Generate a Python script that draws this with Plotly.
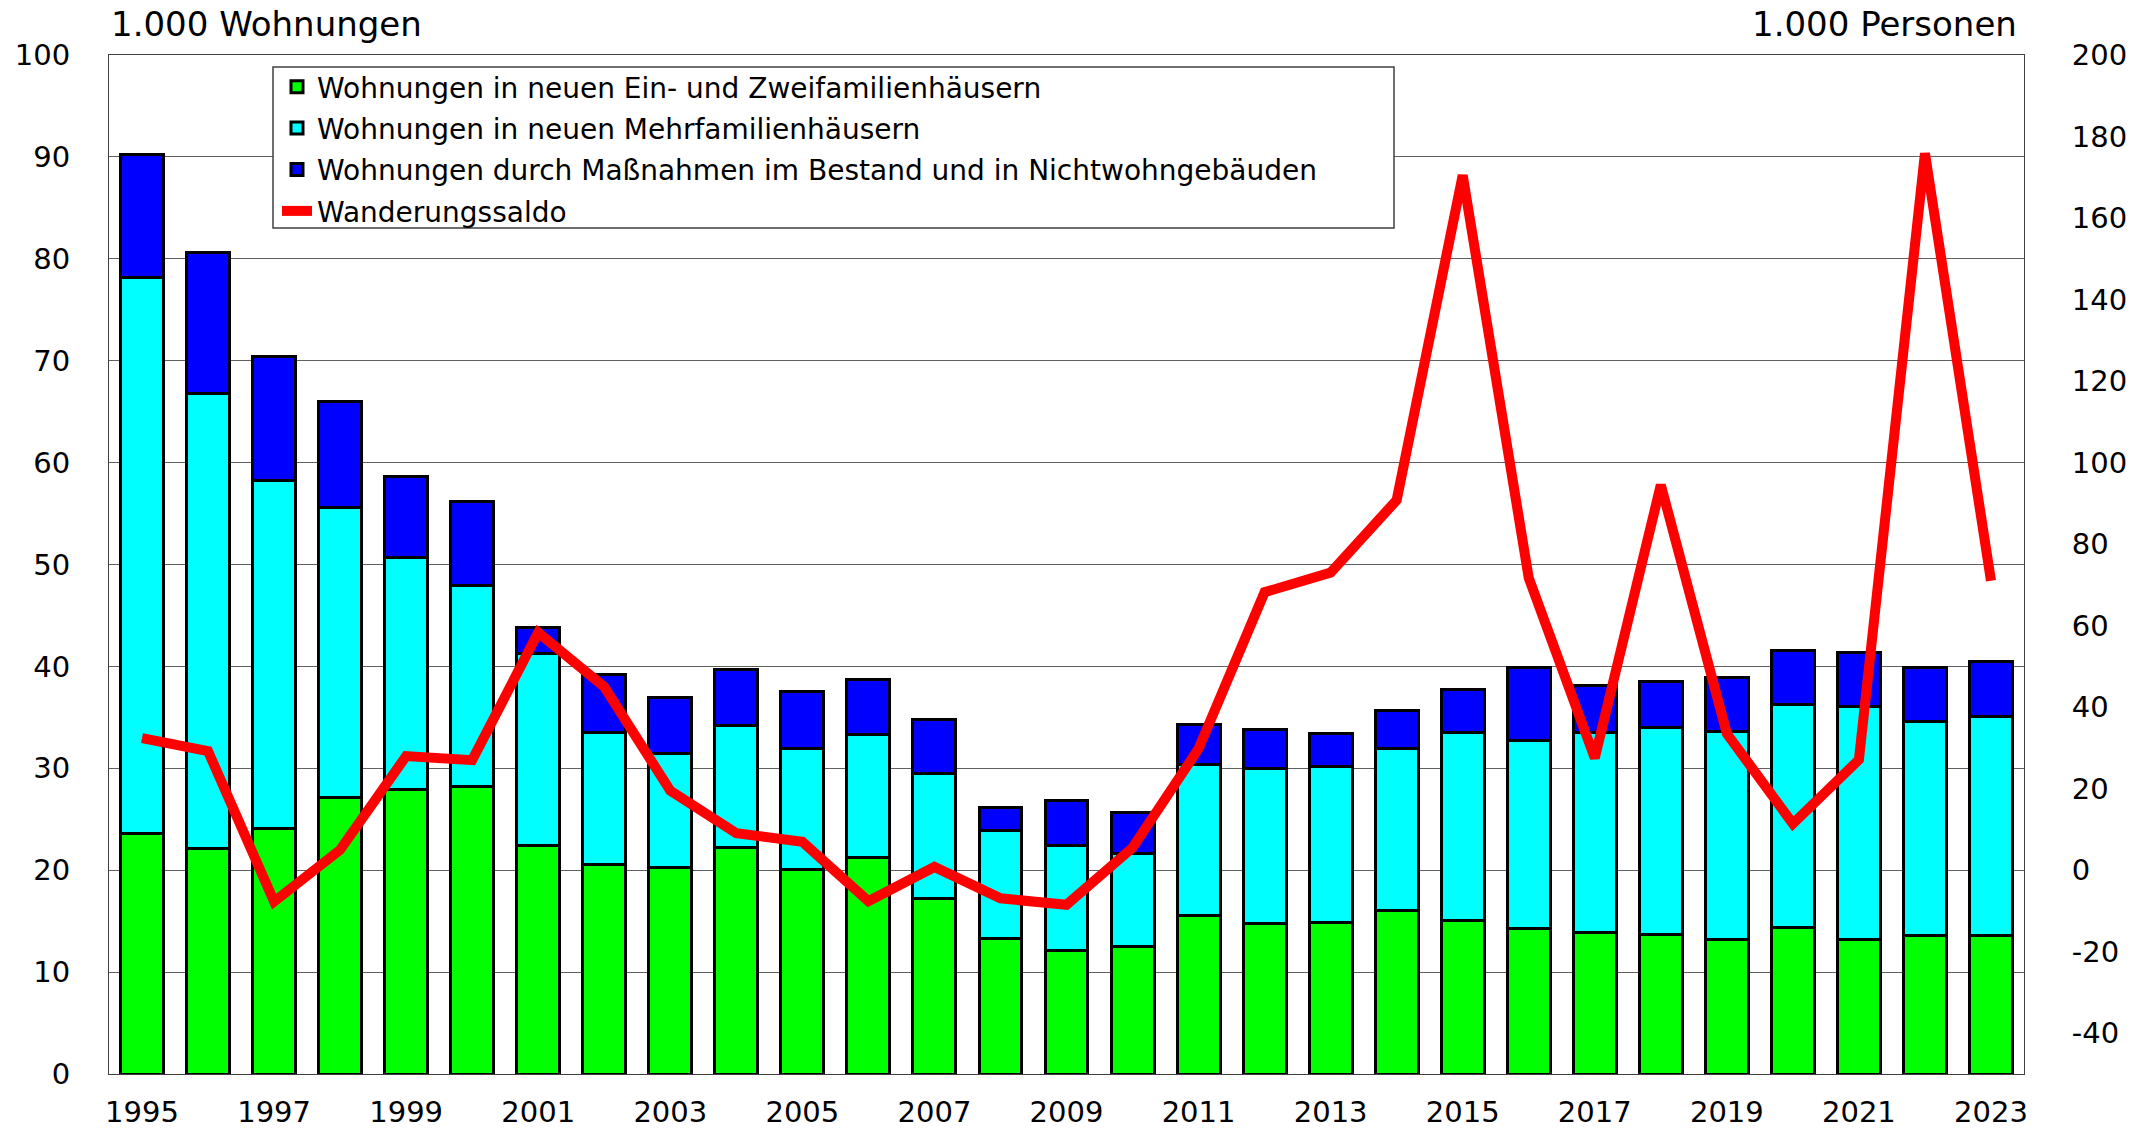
import plotly.graph_objects as go

years = list(range(1995, 2024))

# 1.000 Wohnungen – segments of the stacked bars
ein_zwei = [23.6, 22.1, 24.1, 27.1, 27.9, 28.2, 22.4, 20.6, 20.3, 22.2,
            20.1, 21.2, 17.2, 13.3, 12.1, 12.5, 15.6, 14.8, 14.9, 16.0,
            15.1, 14.3, 13.9, 13.7, 13.2, 14.4, 13.2, 13.6, 13.6]
mehrfam = [54.6, 44.7, 34.1, 28.5, 22.8, 19.7, 18.9, 12.9, 11.2, 12.0,
           11.8, 12.1, 12.3, 10.6, 10.3, 9.1, 14.8, 15.2, 15.3, 15.9,
           18.4, 18.4, 19.6, 20.3, 20.4, 21.9, 22.9, 21.0, 21.5]
bestand = [12.0, 13.8, 12.2, 10.4, 7.9, 8.3, 2.5, 5.7, 5.4, 5.5,
           5.6, 5.4, 5.3, 2.3, 4.4, 4.1, 3.9, 3.8, 3.2, 3.8,
           4.2, 7.2, 4.6, 4.5, 5.3, 5.3, 5.3, 5.3, 5.4]
# 1.000 Personen
wanderung = [32.4, 29.2, -7.7, 5.0, 28.0, 27.0, 58.3, 45.0, 19.5, 9.1,
             7.0, -7.6, 0.8, -6.9, -8.5, 5.5, 29.8, 68.2, 73.0, 90.8,
             170.5, 71.7, 27.5, 94.5, 33.5, 11.4, 27.1, 175.9, 71.0]

names = ["Wohnungen in neuen Ein- und Zweifamilienhäusern",
         "Wohnungen in neuen Mehrfamilienhäusern",
         "Wohnungen durch Maßnahmen im Bestand und in Nichtwohngebäuden",
         "Wanderungssaldo"]

x_ticks = list(range(1995, 2024, 2))
left_ticks = list(range(0, 101, 10))
right_ticks = list(range(-40, 201, 20))
right_ticktext = [str(v) for v in right_ticks]

FONT = "DejaVu Sans"
TICK = 29

# plot area in page pixels (body margin removed by post_script)
W, H = 2143, 1130
PL, PR, PT, PB = 109, 2024, 55, 1074
PW, PH = PR - PL, PB - PT

fig = go.Figure()
for vals, col, nm, grp in [(ein_zwei, "#00FF00", names[0], "g1"),
                           (mehrfam, "#00FFFF", names[1], "g2"),
                           (bestand, "#0000FF", names[2], "g3")]:
    fig.add_trace(go.Bar(x=years, y=vals, name=nm, legendgroup=grp,
                         marker=dict(color=col, line=dict(color="black", width=3))))

fig.add_trace(go.Scatter(x=years, y=wanderung, name=names[3], legendgroup="g4",
                         mode="lines", yaxis="y2",
                         line=dict(color="#FF0000", width=10)))

fig.update_layout(
    width=W, height=H,
    margin=dict(l=PL, r=W - PR, t=PT, b=H - PB, autoexpand=False),
    paper_bgcolor="white", plot_bgcolor="white",
    barmode="stack", bargap=0.35,
    font=dict(family=FONT, size=TICK, color="black"),
    showlegend=True,
    legend=dict(x=(277 - PL) / PW, y=1 - (62 - PT) / PH,
                xanchor="left", yanchor="top",
                bgcolor="rgba(0,0,0,0)", borderwidth=0,
                traceorder="grouped", tracegroupgap=2,
                itemwidth=30, font=dict(family=FONT, size=28, color="black")),
    xaxis=dict(range=[1994.5, 2023.5], tickvals=x_ticks, automargin=False,
               ticks="outside", ticklen=12, tickcolor="rgba(0,0,0,0)",
               showgrid=False, zeroline=False,
               showline=True, linecolor="#404040", linewidth=1, mirror=True,
               tickfont=dict(family=FONT, size=TICK)),
    yaxis=dict(range=[0, 100], tickvals=left_ticks, automargin=False,
               ticks="outside", ticklen=32, tickcolor="rgba(0,0,0,0)",
               showgrid=True, gridcolor="#606060", gridwidth=1, zeroline=False,
               showline=True, linecolor="#404040", linewidth=1, mirror=True,
               tickfont=dict(family=FONT, size=TICK)),
    yaxis2=dict(range=[-50, 200], tickvals=right_ticks, ticktext=right_ticktext,
                overlaying="y", side="right", automargin=False,
                ticks="outside", ticklen=41, tickcolor="rgba(0,0,0,0)",
                showgrid=False, zeroline=False, showline=False,
                tickfont=dict(family=FONT, size=TICK)),
    shapes=[dict(type="rect", xref="paper", yref="paper",
                 x0=(273 - PL) / PW, x1=(1394 - PL) / PW,
                 y0=1 - (228 - PT) / PH, y1=1 - (67 - PT) / PH,
                 line=dict(color="#404040", width=1.5), fillcolor="white",
                 layer="above")],
    annotations=[
        dict(text="1.000 Wohnungen", xref="paper", yref="paper",
             x=0, y=1 + (PT - 24) / PH, xanchor="left", yanchor="middle",
             showarrow=False, font=dict(family=FONT, size=34, color="black")),
        dict(text="1.000 Personen", xref="paper", yref="paper",
             x=1 - 5 / PW, y=1 + (PT - 24) / PH, xanchor="right", yanchor="middle",
             showarrow=False, font=dict(family=FONT, size=34, color="black")),
    ],
)

fig.write_html("out.html",
               config={"displayModeBar": False},
               post_script="document.body.style.margin='0';"
                           "document.body.style.overflow='hidden';")
